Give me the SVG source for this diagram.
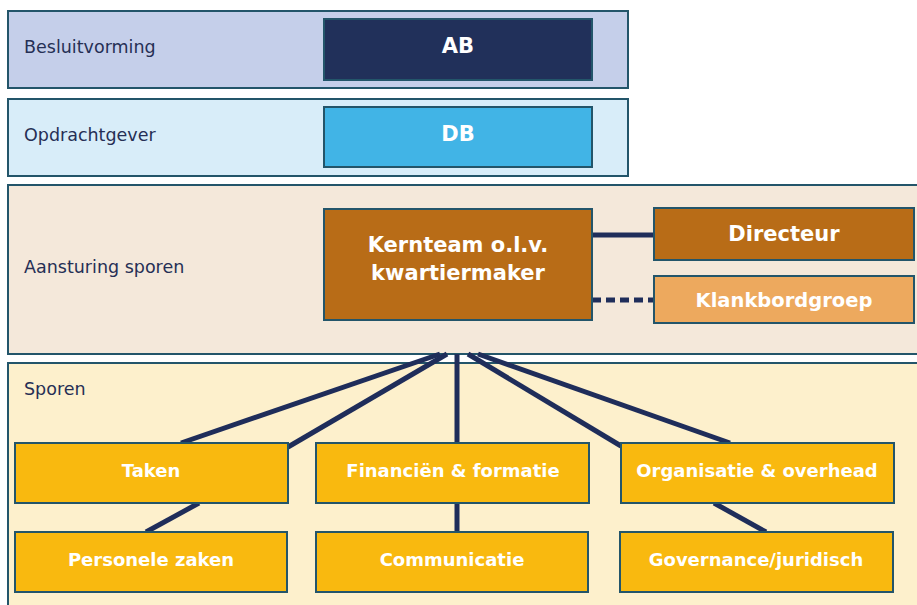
<svg xmlns="http://www.w3.org/2000/svg" width="917" height="605" viewBox="0 0 917 605">
<style>
.band{stroke:#23556a;stroke-width:2}
.box{stroke:#23556a;stroke-width:2}
.lbl{font-family:"DejaVu Sans",Verdana,sans-serif;font-size:17.5px;fill:#262f55}
.t{font-family:"DejaVu Sans",Verdana,sans-serif;font-weight:bold;fill:#ffffff;text-anchor:middle}
.c{stroke:#1f2d5a;stroke-width:5;fill:none}
</style>
<rect width="917" height="605" fill="#ffffff"/>
<g id="band-besluitvorming"><rect class="band" x="8" y="11" width="620" height="77" fill="#c5cfea"/><text class="lbl" x="24" y="53">Besluitvorming</text></g>
<g id="band-opdrachtgever"><rect class="band" x="8" y="99" width="620" height="77" fill="#d8edf9"/><text class="lbl" x="24" y="141">Opdrachtgever</text></g>
<g id="band-aansturing"><rect class="band" x="8" y="185" width="912" height="169" fill="#f4e8da"/><text class="lbl" x="24" y="273">Aansturing sporen</text></g>
<g id="band-sporen"><rect class="band" x="8" y="363" width="912" height="250" fill="#fdf0cc"/><text class="lbl" x="24" y="395">Sporen</text></g>
<g id="connectors">
<line class="c" x1="592" y1="235" x2="654" y2="235"/>
<line class="c" x1="592" y1="300" x2="654" y2="300" stroke-dasharray="9,5"/>
<line class="c" x1="440" y1="354" x2="181" y2="443"/>
<line class="c" x1="447" y1="354" x2="288" y2="447"/>
<line class="c" x1="457" y1="354" x2="457" y2="443"/>
<line class="c" x1="468" y1="354" x2="621" y2="446"/>
<line class="c" x1="478" y1="354" x2="730" y2="443"/>
<line class="c" x1="199" y1="503" x2="146" y2="532"/>
<line class="c" x1="457" y1="503" x2="457" y2="532"/>
<line class="c" x1="714" y1="503" x2="766" y2="532"/>
</g>
<g id="node-ab"><rect class="box" x="324" y="19" width="268" height="61" fill="#21305a"/><text class="t" x="458" y="53" font-size="21">AB</text></g>
<g id="node-db"><rect class="box" x="324" y="107" width="268" height="60" fill="#41b4e6"/><text class="t" x="458" y="141" font-size="21">DB</text></g>
<g id="node-kernteam"><rect class="box" x="324" y="209" width="268" height="111" fill="#b86c17"/><text class="t" x="458" y="252" font-size="21">Kernteam o.l.v.</text><text class="t" x="458" y="280" font-size="21">kwartiermaker</text></g>
<g id="node-directeur"><rect class="box" x="654" y="208" width="260" height="52" fill="#b86c17"/><text class="t" x="784" y="241" font-size="21">Directeur</text></g>
<g id="node-klankbordgroep"><rect class="box" x="654" y="276" width="260" height="47" fill="#eda95e"/><text class="t" x="784" y="307" font-size="19.5">Klankbordgroep</text></g>
<g id="node-taken"><rect class="box" x="15" y="443" width="273" height="60" fill="#f9b90f"/><text class="t" x="151" y="477" font-size="18">Taken</text></g>
<g id="node-financien"><rect class="box" x="316" y="443" width="273" height="60" fill="#f9b90f"/><text class="t" x="453" y="477" font-size="18">Financiën &amp; formatie</text></g>
<g id="node-organisatie"><rect class="box" x="621" y="443" width="273" height="60" fill="#f9b90f"/><text class="t" x="757" y="477" font-size="18">Organisatie &amp; overhead</text></g>
<g id="node-personele"><rect class="box" x="15" y="532" width="272" height="60" fill="#f9b90f"/><text class="t" x="151" y="566" font-size="18">Personele zaken</text></g>
<g id="node-communicatie"><rect class="box" x="316" y="532" width="272" height="60" fill="#f9b90f"/><text class="t" x="452" y="566" font-size="18">Communicatie</text></g>
<g id="node-governance"><rect class="box" x="620" y="532" width="273" height="60" fill="#f9b90f"/><text class="t" x="756" y="566" font-size="18">Governance/juridisch</text></g>
</svg>
